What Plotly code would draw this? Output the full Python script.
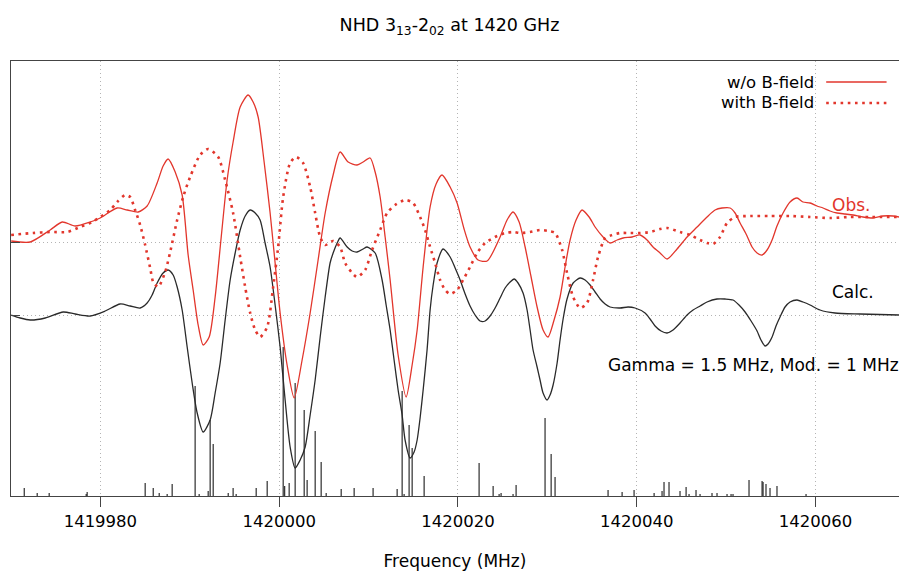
import plotly.graph_objects as go

F0 = 1420000.0  # MHz

# ---- Observed spectrum without B-field (offset MHz from F0, signal a.u.) ----
obs_df = [-29.98, -27.85, -25.62, -24.27, -22.82, -21.14, -20.02, -18.12, -17.00, -15.77,
          -14.77, -13.65, -12.98, -12.42, -11.63, -10.85, -10.18, -9.62, -9.06, -8.50,
          -7.83, -7.16, -6.49, -5.82, -5.15, -4.36, -3.47, -2.91, -2.35, -1.68,
          -1.01, -0.45, 0.11, 0.89, 1.68, 2.57, 3.47, 4.36, 5.15, 6.04,
          6.82, 7.72, 8.72, 9.40, 10.18, 10.74, 11.30, 11.86, 12.42, 13.31,
          14.21, 14.88, 15.44, 16.11, 16.89, 17.56, 18.23, 19.13, 19.91, 20.69,
          21.36, 22.26, 23.27, 24.72, 25.50, 26.17, 26.85, 27.52, 28.19, 28.86,
          29.53, 30.09, 30.76, 31.43, 31.99, 32.55, 33.22, 33.89, 34.68, 35.35,
          36.24, 37.02, 37.81, 38.48, 39.49, 40.38, 41.16, 41.83, 42.62, 43.40,
          44.52, 45.64, 46.76, 47.87, 48.77, 49.55, 50.45, 51.01, 51.57, 52.24,
          52.91, 53.47, 54.03, 54.59, 55.15, 55.70, 56.38, 57.16, 57.94, 58.61,
          59.40, 60.18, 60.85, 61.63, 62.42, 63.31, 64.21, 65.32, 66.44, 67.56,
          68.68, 69.35]
obs_sig = [0.01, 0.00, 0.12, 0.20, 0.16, 0.20, 0.24, 0.34, 0.32, 0.30,
           0.36, 0.59, 0.76, 0.83, 0.70, 0.47, -0.13, -0.48, -0.83, -1.03,
           -0.95, -0.55, 0.04, 0.62, 1.00, 1.35, 1.47, 1.40, 1.25, 0.80,
           0.29, -0.21, -0.71, -1.23, -1.56, -1.18, -0.71, -0.18, 0.29, 0.67,
           0.90, 0.80, 0.77, 0.80, 0.84, 0.70, 0.45, 0.05, -0.38, -1.13,
           -1.55, -1.23, -0.88, -0.25, 0.35, 0.58, 0.67, 0.55, 0.39, 0.13,
           -0.05, -0.18, -0.19, 0.05, 0.22, 0.30, 0.20, -0.05, -0.35, -0.65,
           -0.88, -0.95, -0.78, -0.55, -0.25, 0.02, 0.22, 0.32, 0.25, 0.15,
           0.05, -0.01, 0.02, 0.04, 0.05, 0.07, 0.02, -0.05, -0.11, -0.17,
           -0.07, 0.05, 0.15, 0.25, 0.32, 0.34, 0.34, 0.29, 0.19, 0.08,
           -0.05, -0.11, -0.13, -0.08, 0.02, 0.16, 0.29, 0.40, 0.44, 0.40,
           0.39, 0.36, 0.34, 0.31, 0.29, 0.28, 0.27, 0.25, 0.24, 0.26,
           0.26, 0.25]

# ---- Observed spectrum with B-field ----
bf_df = [-29.98, -27.52, -25.62, -23.71, -22.26, -20.92, -20.02, -18.90, -18.12, -17.23,
         -16.67, -16.11, -15.55, -14.99, -14.43, -14.09, -13.53, -12.75, -12.19, -11.41,
         -10.74, -9.96, -8.84, -7.94, -6.82, -6.04, -5.15, -4.36, -3.80, -3.24,
         -2.68, -2.13, -1.34, -0.67, -0.11, 0.45, 1.23, 1.90, 2.68, 3.47,
         4.03, 4.59, 5.15, 6.04, 6.82, 7.38, 8.17, 8.72, 9.62, 10.40,
         11.30, 12.08, 12.98, 14.09, 14.99, 15.77, 16.33, 16.89, 17.45, 18.01,
         18.57, 19.13, 19.91, 20.58, 21.36, 22.15, 23.04, 24.16, 25.28, 26.17,
         26.96, 28.08, 29.19, 30.09, 30.87, 31.66, 32.21, 32.89, 33.67, 34.45,
         35.12, 35.68, 36.47, 37.25, 38.14, 39.26, 40.38, 41.50, 42.62, 43.40,
         44.85, 45.97, 47.09, 47.87, 48.55, 49.33, 50.11, 51.01, 52.68, 54.92,
         57.16, 59.40, 61.63, 63.87, 66.11, 69.35]
bf_sig = [0.07, 0.09, 0.10, 0.10, 0.15, 0.20, 0.25, 0.32, 0.40, 0.47,
          0.45, 0.32, 0.17, -0.03, -0.26, -0.40, -0.45, -0.30, -0.10, 0.22,
          0.45, 0.65, 0.87, 0.93, 0.85, 0.62, 0.29, -0.15, -0.45, -0.71,
          -0.88, -0.95, -0.85, -0.45, -0.05, 0.45, 0.79, 0.85, 0.79, 0.55,
          0.29, 0.05, -0.03, 0.01, -0.05, -0.21, -0.31, -0.35, -0.28, -0.08,
          0.12, 0.29, 0.37, 0.42, 0.39, 0.25, 0.12, -0.05, -0.21, -0.38,
          -0.48, -0.52, -0.48, -0.38, -0.25, -0.11, -0.01, 0.05, 0.09, 0.10,
          0.09, 0.10, 0.12, 0.11, 0.09, -0.08, -0.31, -0.55, -0.66, -0.61,
          -0.38, -0.15, 0.04, 0.07, 0.09, 0.09, 0.09, 0.10, 0.13, 0.14,
          0.10, 0.07, 0.02, -0.01, -0.02, 0.05, 0.19, 0.25, 0.26, 0.26,
          0.26, 0.25, 0.24, 0.25, 0.25, 0.25]

# ---- Calculated spectrum ----
calc_df = [-29.98, -28.97, -27.85, -26.17, -24.16, -22.82, -21.14, -19.46, -17.79, -16.67,
           -15.55, -14.77, -14.21, -13.65, -12.98, -12.42, -11.86, -11.41, -10.85, -10.29,
           -9.73, -9.17, -8.50, -7.72, -7.16, -6.60, -6.04, -5.48, -4.92, -4.36,
           -3.80, -3.24, -2.68, -2.13, -1.57, -1.01, -0.45, 0.11, 0.67, 1.23,
           1.79, 2.35, 2.91, 3.47, 4.03, 4.59, 5.15, 5.70, 6.04, 6.49,
           6.82, 7.61, 8.17, 8.72, 9.40, 9.84, 10.74, 11.52, 11.97, 12.42,
           12.86, 13.31, 13.76, 14.09, 14.65, 15.10, 15.44, 15.77, 16.11, 16.55,
           16.89, 17.23, 17.67, 18.34, 19.13, 19.69, 20.25, 20.81, 21.36, 21.92,
           22.48, 23.04, 23.60, 24.16, 24.72, 25.28, 25.84, 26.29, 26.73, 27.29,
           27.74, 28.08, 28.41, 28.86, 29.19, 29.53, 29.98, 30.31, 30.65, 31.10,
           31.43, 31.77, 32.21, 32.89, 33.67, 34.23, 34.79, 35.35, 35.91, 36.47,
           37.02, 38.14, 39.04, 39.82, 40.94, 41.50, 42.06, 42.73, 43.40, 44.07,
           44.85, 45.64, 46.31, 47.09, 47.87, 48.99, 49.89, 50.78, 51.45, 52.13,
           52.80, 53.47, 53.91, 54.36, 54.70, 55.15, 55.59, 56.04, 56.60, 57.16,
           57.94, 58.61, 59.40, 60.51, 62.19, 64.99, 69.35]
calc_sig = [0.00, -0.03, -0.05, -0.03, 0.03, 0.01, -0.01, 0.04, 0.11, 0.09,
            0.07, 0.12, 0.20, 0.32, 0.42, 0.45, 0.40, 0.28, 0.05, -0.32,
            -0.68, -0.98, -1.17, -1.05, -0.78, -0.48, -0.05, 0.35, 0.62, 0.85,
            0.99, 1.05, 1.02, 0.95, 0.72, 0.48, 0.10, -0.32, -0.85, -1.32,
            -1.53, -1.45, -1.32, -1.00, -0.65, -0.22, 0.18, 0.52, 0.62, 0.72,
            0.77, 0.68, 0.64, 0.63, 0.66, 0.68, 0.62, 0.35, 0.10, -0.15,
            -0.45, -0.75, -1.00, -1.25, -1.43, -1.37, -1.25, -1.03, -0.75, -0.35,
            0.05, 0.30, 0.52, 0.66, 0.58, 0.47, 0.35, 0.21, 0.09, 0.00,
            -0.06, -0.06, -0.01, 0.07, 0.17, 0.27, 0.33, 0.36, 0.32, 0.22,
            0.05, -0.15, -0.35, -0.52, -0.65, -0.78, -0.85, -0.80, -0.70, -0.48,
            -0.25, -0.04, 0.16, 0.32, 0.37, 0.35, 0.30, 0.23, 0.16, 0.11,
            0.08, 0.07, 0.08, 0.07, 0.02, -0.04, -0.11, -0.16, -0.18, -0.15,
            -0.08, 0.00, 0.05, 0.09, 0.13, 0.16, 0.16, 0.15, 0.10, 0.03,
            -0.06, -0.16, -0.25, -0.31, -0.29, -0.22, -0.11, -0.02, 0.08, 0.13,
            0.15, 0.13, 0.10, 0.05, 0.02, 0.01, 0.00]

# ---- Line list (stick spectrum) ----
line_df = [-28.52, -27.07, -25.73, -21.59, -21.48, -14.99, -14.09, -13.42, -12.53, -11.97,
           -9.40, -8.95, -7.94, -7.72, -7.38, -5.70, -5.15, -4.81, -2.57, -1.34,
           0.45, 0.62, 1.12, 1.79, 2.80, 3.13, 4.03, 4.70, 5.26, 6.94,
           8.39, 10.51, 13.20, 13.76, 13.98, 14.54, 14.88, 16.22, 22.37, 23.94,
           24.61, 24.83, 26.17, 26.51, 29.75, 30.43, 30.87, 36.80, 38.37, 39.71,
           41.95, 42.84, 43.06, 43.62, 44.85, 45.53, 45.86, 46.64, 47.09, 48.43,
           48.99, 50.11, 50.56, 50.78, 52.57, 54.03, 54.14, 54.47, 54.92, 55.70,
           58.95]
line_int = [0.08, 0.03, 0.03, 0.02, 0.04, 0.13, 0.08, 0.03, 0.02, 0.12,
            1.10, 0.02, 0.05, 0.76, 0.52, 0.03, 0.08, 0.02, 0.08, 0.15,
            1.49, 0.10, 0.13, 1.13, 0.86, 0.16, 0.65, 0.34, 0.03, 0.07,
            0.08, 0.08, 0.07, 1.05, 0.02, 0.71, 0.48, 0.20, 0.33, 0.10,
            0.02, 0.03, 0.02, 0.11, 0.78, 0.42, 0.19, 0.06, 0.04, 0.06,
            0.03, 0.05, 0.14, 0.14, 0.05, 0.09, 0.02, 0.06, 0.02, 0.03,
            0.03, 0.02, 0.02, 0.02, 0.16, 0.15, 0.14, 0.12, 0.08, 0.10,
            0.02]

OBS_BASE = 2.54
CALC_BASE = 1.81
x_ticks = [1419980, 1420000, 1420020, 1420040, 1420060]

RED = "#e2362c"
BLACK = "#2a2a2a"
FONT = "DejaVu Sans"
FS = 16.5
FL = 17

fig = go.Figure()

# sticks
sx, sy = [], []
for d, h in zip(line_df, line_int):
    sx += [F0 + d, F0 + d, None]
    sy += [0, h, None]
fig.add_trace(go.Scatter(x=sx, y=sy, mode="lines",
                         line=dict(color="#1a1a1a", width=1.1), showlegend=False))

fig.add_trace(go.Scatter(x=[F0 + d for d in calc_df], y=[CALC_BASE + s for s in calc_sig],
                         mode="lines", line=dict(color=BLACK, width=1.3, shape="spline", smoothing=0.7),
                         showlegend=False))
fig.add_trace(go.Scatter(x=[F0 + d for d in bf_df], y=[OBS_BASE + s for s in bf_sig],
                         mode="lines", line=dict(color=RED, width=2.6, dash="2.6px,4.6px",
                                                 shape="spline", smoothing=0.7),
                         showlegend=False))
fig.add_trace(go.Scatter(x=[F0 + d for d in obs_df], y=[OBS_BASE + s for s in obs_sig],
                         mode="lines", line=dict(color=RED, width=1.3, shape="spline", smoothing=0.7),
                         showlegend=False))

# legend (gnuplot style: text right-aligned, sample on the right)
LEG_X = 0.907
fig.add_annotation(xref="paper", yref="paper", x=LEG_X, y=1 - 21 / 435, text="w/o B-field",
                   showarrow=False, xanchor="right", yanchor="middle",
                   font=dict(family=FONT, size=FS, color="#000"))
fig.add_annotation(xref="paper", yref="paper", x=LEG_X, y=1 - 42 / 435, text="with B-field",
                   showarrow=False, xanchor="right", yanchor="middle",
                   font=dict(family=FONT, size=FS, color="#000"))
fig.add_shape(type="line", xref="paper", yref="paper", x0=0.918, x1=0.986,
              y0=1 - 21 / 435, y1=1 - 21 / 435, line=dict(color=RED, width=1.3))
fig.add_shape(type="line", xref="paper", yref="paper", x0=0.918, x1=0.99,
              y0=1 - 42 / 435, y1=1 - 42 / 435, line=dict(color=RED, width=2.6, dash="2.6px,4.6px"))

# labels
fig.add_annotation(x=F0 + 61.6, y=2.91, text="Obs.", showarrow=False, xanchor="left",
                   font=dict(family=FONT, size=FL, color=RED))
fig.add_annotation(x=F0 + 61.6, y=2.04, text="Calc.", showarrow=False, xanchor="left",
                   font=dict(family=FONT, size=FL, color="#000"))
fig.add_annotation(x=F0 + 36.6, y=1.31, text="Gamma = 1.5 MHz, Mod. = 1 MHz", showarrow=False,
                   xanchor="left", font=dict(family=FONT, size=FL, color="#000"))

fig.update_layout(
    width=899, height=571,
    margin=dict(l=11, r=0, t=61, b=75),
    paper_bgcolor="white", plot_bgcolor="white",
    title=dict(text="NHD 3<sub>13</sub>-2<sub>02</sub> at 1420 GHz", x=0.5, xanchor="center",
               y=1 - 25 / 571, yanchor="middle", font=dict(family=FONT, size=17.5, color="#000")),
    font=dict(family=FONT, size=FS, color="#000"),
    xaxis=dict(range=[F0 - 30.0, F0 + 69.35], tickvals=x_ticks,
               ticktext=[str(v) for v in x_ticks], ticks="outside", ticklen=10,
               tickcolor="#444", showline=True, linecolor="#444", linewidth=1, mirror=True,
               showgrid=True, gridcolor="#b4b4b4", griddash="1px,3px", gridwidth=1,
               zeroline=False,
               title=dict(text="Frequency (MHz)", standoff=26,
                          font=dict(family=FONT, size=17, color="#000")),
               tickfont=dict(family=FONT, size=FS, color="#000")),
    yaxis=dict(range=[0, 4.35], tickvals=[CALC_BASE, OBS_BASE], showticklabels=False,
               ticks="inside", ticklen=9, tickcolor="#444", showline=True, linecolor="#444",
               linewidth=1, showgrid=True, gridcolor="#b4b4b4", griddash="1px,3px", gridwidth=1,
               zeroline=False),
)

fig.write_html("out.html", config={"displayModeBar": False},
               post_script="document.body.style.margin='0';")
